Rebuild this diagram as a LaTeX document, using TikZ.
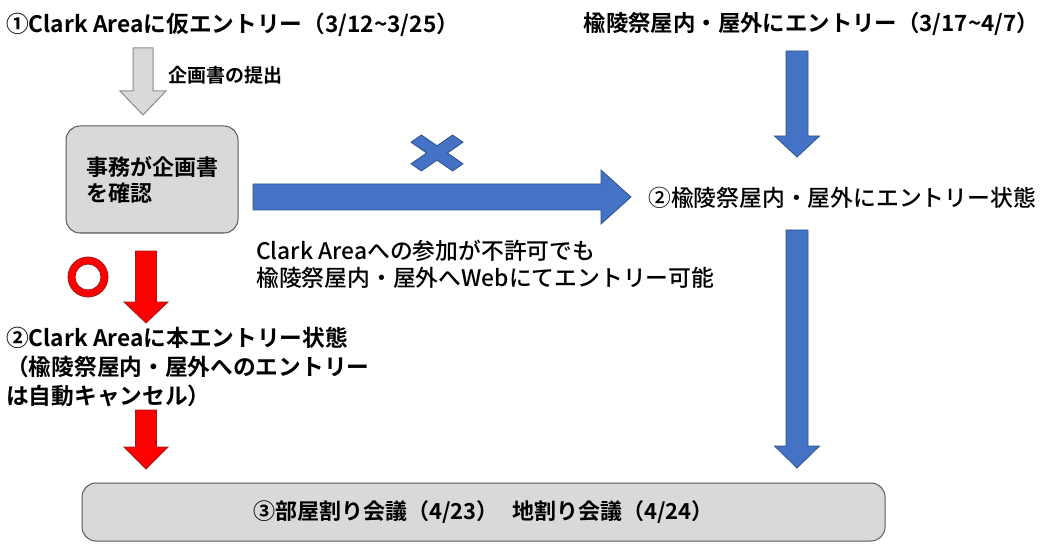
\documentclass[tikz,border=0pt]{standalone}
\usepackage{fontspec}
\setmainfont{Noto Sans CJK JP}[BoldFont={Noto Sans CJK JP Bold}]
\newfontfamily\mediumjp{Noto Sans CJK JP Medium}
\usetikzlibrary{calc}

\definecolor{flowblue}{HTML}{4472C4}
\definecolor{flowblueline}{HTML}{2F528F}
\definecolor{flowred}{HTML}{FF0000}
\definecolor{flowredline}{HTML}{9E1B1B}
\definecolor{boxgray}{HTML}{D9D9D9}
\definecolor{boxline}{HTML}{595959}
\definecolor{arrowgrayline}{HTML}{8C8C8C}

% block arrow: style, from, to, half shaft, half head, head length
\newcommand\blockarrow[6]{%
  \path (#3) coordinate (ba tip) ($(#3)!#6!(#2)$) coordinate (ba neck);
  \filldraw[#1] ($(#2)!#4!90:(#3)$) -- ($(ba neck)!#4!90:(ba tip)$)
    -- ($(ba neck)!#5!90:(ba tip)$) -- (ba tip)
    -- ($(ba neck)!#5!-90:(ba tip)$) -- ($(ba neck)!#4!-90:(ba tip)$)
    -- ($(#2)!#4!-90:(#3)$) -- cycle;}

\tikzset{
  heading/.style={inner sep=0pt, font=\fontsize{22.7}{29}\selectfont\bfseries, align=left},
  plain/.style={inner sep=0pt, font=\fontsize{22.8}{27}\selectfont\mediumjp, align=left},
  panel/.style={draw=boxline, fill=boxgray, line width=1pt, rounded corners=14pt},
  bluearrow/.style={fill=flowblue, draw=flowblueline, line width=0.8pt},
  redarrow/.style={fill=flowred, draw=flowredline, line width=0.8pt},
  grayarrow/.style={fill=boxgray, draw=arrowgrayline, line width=1pt}
}

\begin{document}
\begin{tikzpicture}[x=1pt, y=-1pt]
\useasboundingbox (0,0) rectangle (1040,545);

% texts and boxes
\node[heading, anchor=west] (clarkpre) at (6,25) {①Clark Areaに仮エントリー（3/12\textasciitilde3/25）};
\node[heading, anchor=east, font=\fontsize{22.4}{29}\selectfont\bfseries] (yuryo) at (1039,24) {楡陵祭屋内・屋外にエントリー（3/17\textasciitilde4/7）};
\node[inner sep=0pt, anchor=west, font=\fontsize{19}{22}\selectfont\bfseries] (plan) at (168,75) {企画書の提出};
\node[panel, heading, minimum width=172pt, minimum height=107pt, font=\fontsize{22}{26}\selectfont\bfseries] (check) at (152,179.5) {事務が企画書\\を確認};
\node[plain, anchor=west] (yuryostate) at (648,198) {②楡陵祭屋内・屋外にエントリー状態};
\node[plain, anchor=west] (note) at (256,264) {Clark Areaへの参加が不許可でも\\楡陵祭屋内・屋外へWebにてエントリー可能};
\node[heading, anchor=north west] (clarkstate) at (6,327) {②Clark Areaに本エントリー状態\\（楡陵祭屋内・屋外へのエントリー\\は自動キャンセル）};
\node[panel, heading, minimum width=803pt, minimum height=58pt, font=\fontsize{22}{26}\selectfont\bfseries] (meeting) at (483.5,512) {③部屋割り会議（4/23）\hspace{0.6em}地割り会議（4/24）};

% arrow ends
\coordinate (g1) at (143,48);
\coordinate (g2) at (143,115);
\coordinate (b1) at (253,197);
\coordinate (b2) at (631,197);
\coordinate (b3) at (797,51);
\coordinate (b4) at (797,157);
\coordinate (b5) at (797,230);
\coordinate (b6) at (797,468);
\coordinate (r1) at (146,251);
\coordinate (r2) at (146,323);
\coordinate (r3) at (146,410);
\coordinate (r4) at (146,469);

\blockarrow{grayarrow}{g1}{g2}{10pt}{23pt}{24pt}
\blockarrow{bluearrow}{b1}{b2}{13pt}{27pt}{30pt}
\blockarrow{bluearrow}{b3}{b4}{11pt}{22.5pt}{21pt}
\blockarrow{bluearrow}{b5}{b6}{11pt}{22.5pt}{22pt}
\blockarrow{redarrow}{r1}{r2}{10.5pt}{22pt}{21pt}
\blockarrow{redarrow}{r3}{r4}{10.5pt}{22pt}{22pt}

% ok / ng marks
\coordinate (ok) at (88,277);
\coordinate (ng) at (437,153);
\filldraw[redarrow, even odd rule] (ok) circle[radius=20pt] (ok) circle[radius=13pt];
\filldraw[bluearrow, shift={(ng)}, xscale=26, yscale=18]
  (0,0.4) -- (0.6,1) -- (1,0.6) -- (0.4,0) -- (1,-0.6) -- (0.6,-1) -- (0,-0.4)
  -- (-0.6,-1) -- (-1,-0.6) -- (-0.4,0) -- (-1,0.6) -- (-0.6,1) -- cycle;
\end{tikzpicture}
\end{document}
